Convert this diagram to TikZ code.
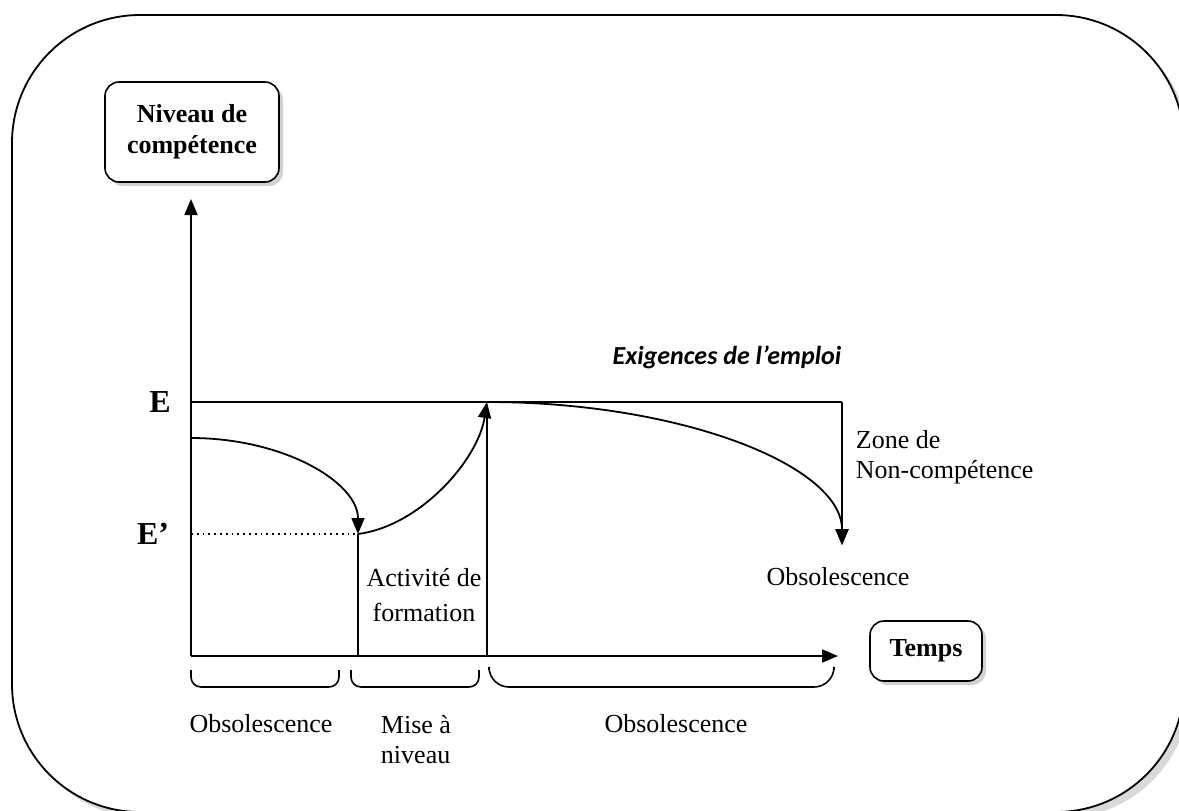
\documentclass[tikz,border=0pt]{standalone}
\usepackage{fontspec}
\setmainfont{Liberation Serif}
\newfontfamily\calibri{Carlito}
\usetikzlibrary{positioning,arrows.meta,shadows}
\tikzset{my box/.style={draw,thick,rounded corners=7pt,fill=white,align=center,font=\bfseries\fontsize{13}{15.5}\selectfont,drop shadow={shadow xshift=2pt,shadow yshift=-2pt,opacity=.35}},
my label/.style={inner sep=0pt,font=\fontsize{13}{15}\selectfont},
my arrow/.style={-{Triangle[length=8pt,width=6.5pt]}},
my brace/.style={line width=.8pt,rounded corners=#1}}

\begin{document}
\begin{tikzpicture}[x=0.5pt,y=-0.5pt,line width=.9pt]
\useasboundingbox (0,0) rectangle (1179,810);
\draw[fill=white,rounded corners=64pt,drop shadow={shadow xshift=3pt,shadow yshift=-3pt,opacity=.3}] (12,15) rectangle (1184,812);
\node[my box,minimum width=87pt,minimum height=50pt] (niveau) at (192,132) {Niveau de\\compétence};
\node[my box,minimum width=56pt,minimum height=30pt] (temps) at (926,651) {Temps};
\coordinate (O) at (191,656);
\coordinate (ytop) at (191,199);
\coordinate (xend) at (838,656);
\coordinate (E) at (191,402);
\coordinate (Ep) at (191,534);
\coordinate (start) at (191,438);
\coordinate (low) at (358,534);
\coordinate (low0) at (358,656);
\coordinate (up) at (487,402);
\coordinate (up0) at (487,656);
\coordinate (up1) at (487,412);
\coordinate (zone) at (842,402);
\coordinate (obs) at (842,545);
\draw[my arrow] (O) -- (ytop);
\draw[my arrow] (O) -- (xend);
\draw (E) -- (zone);
\draw[my arrow] (zone) -- (obs);
\draw[dotted] (Ep) -- (low);
\draw (low0) -- (low);
\draw[my arrow] (start) .. controls (283,438) and (358,482) .. (low);
\draw[my arrow] (low) .. controls (420,526) and (478,460) .. (up);
\draw[line width=1.4pt] (up0) -- (up1);
\draw[my arrow] (up) .. controls (682,402) and (842,466) .. (obs);
\node[font=\bfseries\fontsize{16}{18}\selectfont] (lblE) at (160,402) {E};
\node[font=\bfseries\fontsize{16}{18}\selectfont] (lblEp) at (153,534) {E’};
\node[font=\calibri\bfseries\itshape\fontsize{13}{15}\selectfont] (exig) at (727,357) {Exigences de l’emploi};
\node[my label,align=left,anchor=west] (zonetxt) at (855,457) {Zone de\\Non-compétence};
\node[my label] (obsR) at (838,577) {Obsolescence};
\node[my label,align=center,font=\fontsize{13}{17.5}\selectfont] (activ) at (424,595) {Activité de\\formation};
\draw[my brace=5pt] (191,670) |- (339,687) -- (339,670);
\draw[my brace=5pt] (351,670) |- (479,687) -- (479,670);
\draw[my brace=10pt] (489,670) |- (834,687) -- (834,670);
\node[my label] (obs1) at (261,724) {Obsolescence};
\node[my label,align=left] (mise) at (416,740) {Mise à\\niveau};
\node[my label] (obs2) at (676,724) {Obsolescence};
\end{tikzpicture}
\end{document}
